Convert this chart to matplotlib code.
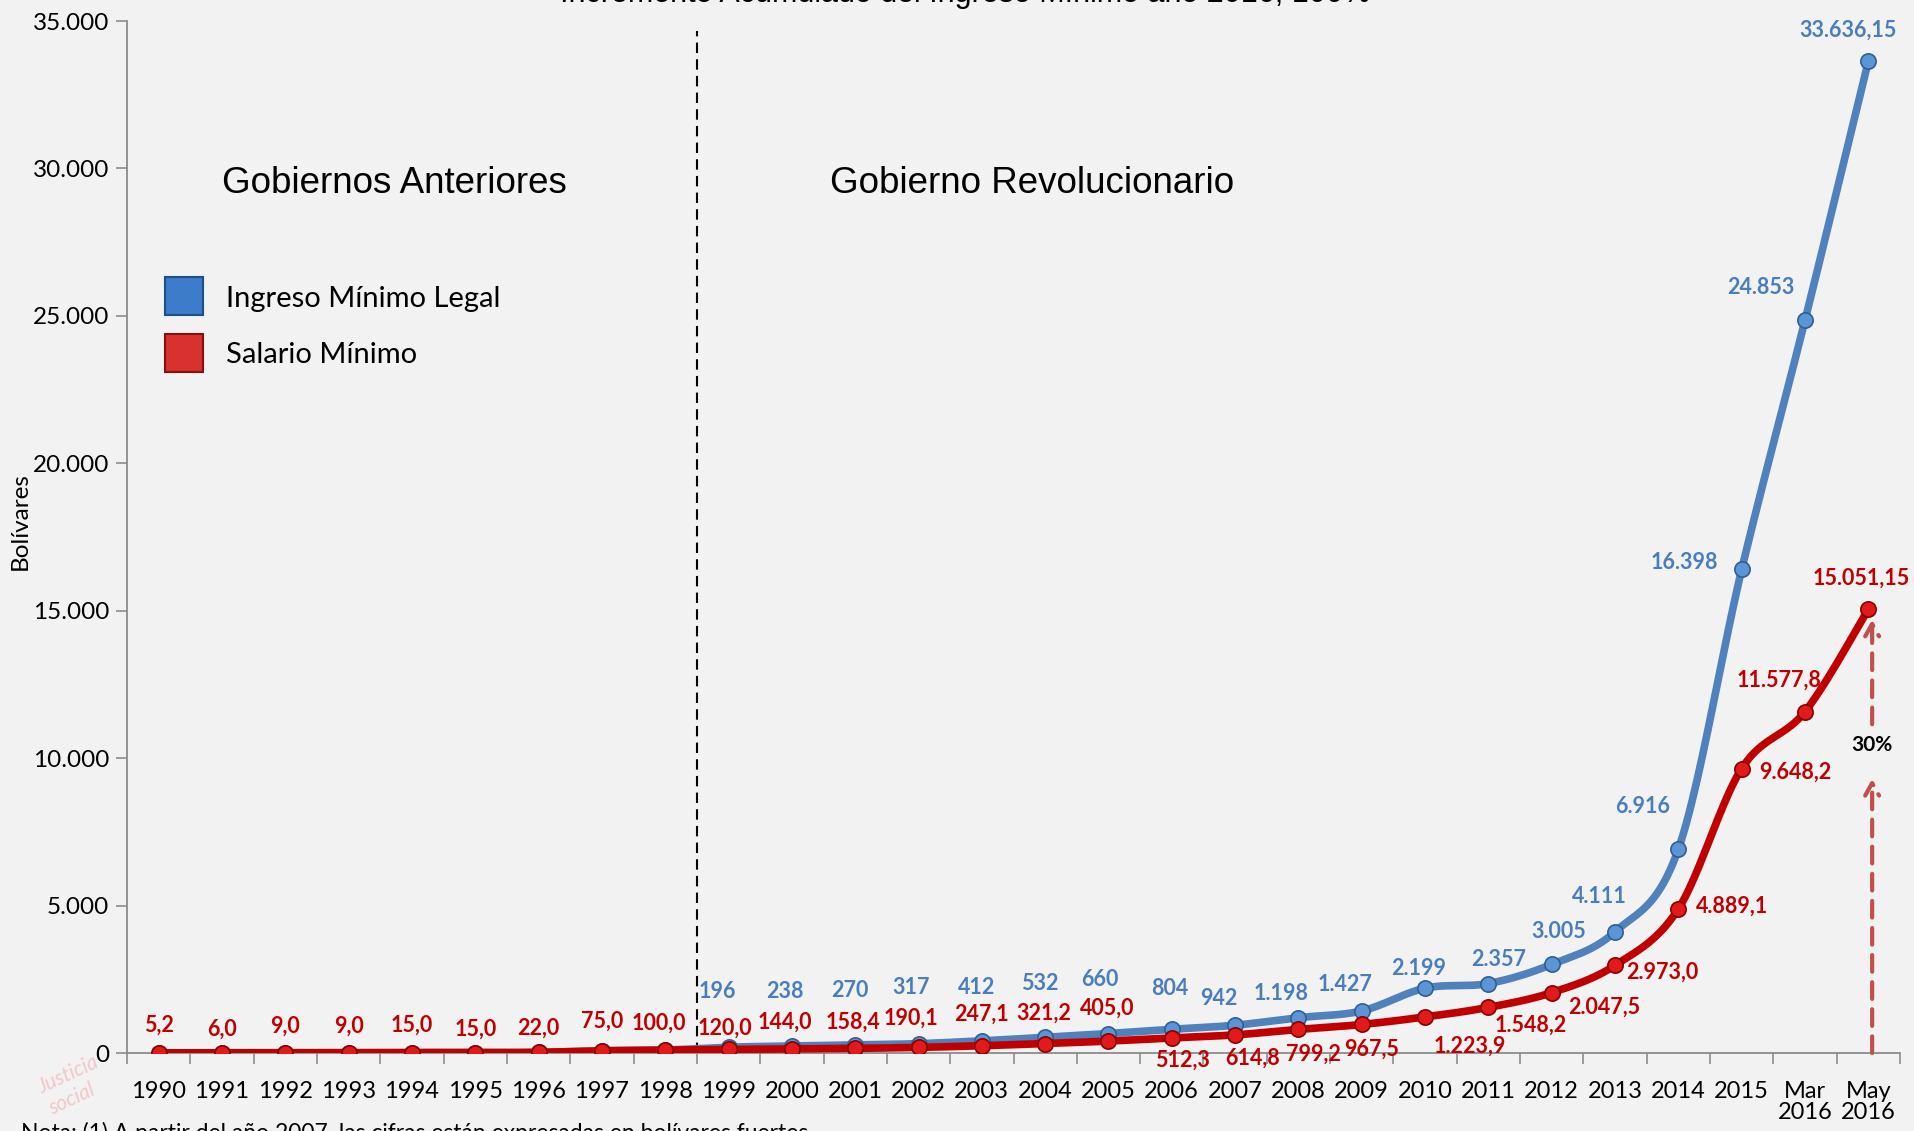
import numpy as np
import matplotlib
matplotlib.use("Agg")
import matplotlib.pyplot as plt
from matplotlib.lines import Line2D

# ---------------- data ----------------
categories = ["1990", "1991", "1992", "1993", "1994", "1995", "1996", "1997", "1998",
              "1999", "2000", "2001", "2002", "2003", "2004", "2005", "2006", "2007",
              "2008", "2009", "2010", "2011", "2012", "2013", "2014", "2015",
              "Mar\n2016", "May\n2016"]

salario_minimo = [5.2, 6.0, 9.0, 9.0, 15.0, 15.0, 22.0, 75.0, 100.0,
                  120.0, 144.0, 158.4, 190.1, 247.1, 321.2, 405.0, 512.3, 614.8,
                  799.2, 967.5, 1223.9, 1548.2, 2047.5, 2973.0, 4889.1, 9648.2,
                  11577.8, 15051.15]

ingreso_minimo = [5.2, 6.0, 9.0, 9.0, 15.0, 15.0, 22.0, 75.0, 100.0,
                  196, 238, 270, 317, 412, 532, 660, 804, 942,
                  1198, 1427, 2199, 2357, 3005, 4111, 6916, 16398,
                  24853, 33636.15]

salario_labels = ["5,2", "6,0", "9,0", "9,0", "15,0", "15,0", "22,0", "75,0", "100,0",
                  "120,0", "144,0", "158,4", "190,1", "247,1", "321,2", "405,0", "512,3",
                  "614,8", "799,2", "967,5", "1.223,9", "1.548,2", "2.047,5", "2.973,0",
                  "4.889,1", "9.648,2", "11.577,8", "15.051,15"]
ingreso_labels = [None] * 9 + ["196", "238", "270", "317", "412", "532", "660", "804", "942",
                               "1.198", "1.427", "2.199", "2.357", "3.005", "4.111", "6.916",
                               "16.398", "24.853", "33.636,15"]

y_ticks = [0, 5000, 10000, 15000, 20000, 25000, 30000, 35000]
y_tick_labels = ["0", "5.000", "10.000", "15.000", "20.000", "25.000", "30.000", "35.000"]

# label offsets in pixels (dx, dy) -- layout only
S = 1.2213
red_off = [(0, 23), (0, 19), (0, 22), (0, 22), (0, 22), (0, 19), (0, 20), (0, 24), (-5, 22),
           (-3, 17), (-6, 22), (-2, 21), (-6, 24), (0, 26), (-1, 25), (-1, 27), (9, -18),
           (14, -19), (12, -20), (8, -20), (37, -24), (35, -15), (43, -12), (39, -6),
           (44, 2), (44, -3), (-21, 26), (-6, 25)]
blue_off = [None] * 9 + [(-9, 46), (-6, 45), (-4, 45), (-6, 46), (-4, 44), (-4, 44), (-7, 44),
                         (-2, 33), (-13, 22), (-14, 20), (-14, 22), (-5, 16), (8, 20), (6, 27),
                         (-13, 29), (-29, 35), (-47, 6), (-36, 27), (-17, 25)]


def smooth(xs, ys, n=24):
    """Catmull-Rom curve through the points (Excel-like smoothed line)."""
    p = np.column_stack([xs, ys]).astype(float)
    p = np.vstack([p[0], p, p[-1]])
    out = []
    t = np.linspace(0, 1, n, endpoint=False)[:, None]
    for i in range(1, len(p) - 2):
        p0, p1, p2, p3 = p[i - 1], p[i], p[i + 1], p[i + 2]
        seg = 0.5 * ((2 * p1) + (-p0 + p2) * t + (2 * p0 - 5 * p1 + 4 * p2 - p3) * t ** 2
                     + (-p0 + 3 * p1 - 3 * p2 + p3) * t ** 3)
        out.append(seg)
    out.append(p[-2][None, :])
    out = np.vstack(out)
    return out[:, 0], out[:, 1]


plt.rcParams['font.family'] = ['Lato', 'DejaVu Sans']

W, H = 1915, 1131
fig = plt.figure(figsize=(W / 100, H / 100), dpi=100)
fig.patch.set_facecolor("#f2f2f2")

ax = fig.add_axes([127 / W, 1 - 1053 / H, (1900 - 127) / W, (1053 - 21) / H])
ax.set_facecolor("none")

x = np.arange(len(categories))

BLUE_LINE = "#4f81bd"
RED_LINE = "#c00000"

bx, by = smooth(x, ingreso_minimo)
rx, ry = smooth(x, salario_minimo)

ax.plot(bx, by, color=BLUE_LINE, lw=5.5, solid_capstyle="round", zorder=3)
ax.plot(x, ingreso_minimo, ls="none", marker="o", ms=11, mfc="#5b95d6", mec="#2f5f95",
        mew=1.2, zorder=4)
ax.plot(rx, ry, color=RED_LINE, lw=5.5, solid_capstyle="round", zorder=5)
ax.plot(x, salario_minimo, ls="none", marker="o", ms=11, mfc="#e31a1a", mec="#8a0000",
        mew=1.2, zorder=6)

# data labels
for i, (v, lab) in enumerate(zip(salario_minimo, salario_labels)):
    dx, dy = red_off[i]
    ax.annotate(lab, (x[i], v), xytext=(dx * S * 0.72, dy * S * 0.72), textcoords="offset points",
                ha="center", va="center", fontsize=15.5, fontweight="bold", color="#c00000",
                zorder=8)
for i, (v, lab) in enumerate(zip(ingreso_minimo, ingreso_labels)):
    if lab is None:
        continue
    dx, dy = blue_off[i]
    ax.annotate(lab, (x[i], v), xytext=(dx * S * 0.72, dy * S * 0.72), textcoords="offset points",
                ha="center", va="center", fontsize=15.5, fontweight="bold", color="#4a7ebb",
                zorder=8)

# axes styling
ax.set_xlim(-0.5, len(categories) - 0.5)
ax.set_ylim(0, 35000)
ax.set_yticks(y_ticks)
ax.set_yticklabels(y_tick_labels, fontsize=17.5)
ax.set_xticks(x)
ax.set_xticklabels(categories, fontsize=17, linespacing=1.0, va="top")
ax.set_xticks(np.arange(-0.5, len(categories), 1.0), minor=True)
ax.tick_params(axis="x", which="major", length=0, pad=20)
ax.tick_params(axis="x", which="minor", length=8, width=1.2, color="#8c8c8c", direction="out")
ax.tick_params(axis="y", length=8, width=1.2, color="#8c8c8c", pad=5)
for side in ["top", "right"]:
    ax.spines[side].set_visible(False)
for side in ["left", "bottom"]:
    ax.spines[side].set_color("#8c8c8c")
    ax.spines[side].set_linewidth(1.3)

ax.set_ylabel("Bolívares", fontsize=17.5, labelpad=4)
ax.yaxis.set_label_coords(-0.0545, 0.515)

# separator between periods
ax.axvline(8.5, ymin=0, ymax=0.99, color="black", ls=(0, (5, 3)), lw=1.5, zorder=2)

ax.text(0.0537, 0.843, "Gobiernos Anteriores", transform=ax.transAxes,
        fontsize=26.5, family="Liberation Sans", ha="left", va="center")
ax.text(0.3967, 0.843, "Gobierno Revolucionario", transform=ax.transAxes,
        fontsize=26.5, family="Liberation Sans", ha="left", va="center")

# 30% arrow annotation
arrow_kw = dict(arrowstyle="->,head_length=0.9,head_width=0.5", color="#c0504d", lw=3,
                ls=(0, (4, 2.5)), shrinkA=0, shrinkB=0)
xa = len(categories) - 1 + 0.06
ax.annotate("", xy=(xa, 9300), xytext=(xa, 0), arrowprops=arrow_kw, zorder=7)
ax.annotate("", xy=(xa, 14700), xytext=(xa, 11150), arrowprops=arrow_kw, zorder=7)
ax.text(xa, 10450, "30%", ha="center", va="center", fontsize=15, fontweight="bold",
        color="black", zorder=8)

# legend
handles = [Line2D([], [], ls="none", marker="s", ms=28, mfc="#3d7cc9", mec="#1f4f8a", mew=1.5),
           Line2D([], [], ls="none", marker="s", ms=28, mfc="#d93030", mec="#8a1010", mew=1.5)]
leg = ax.legend(handles, ["Ingreso Mínimo Legal", "Salario Mínimo"], loc="upper left",
                bbox_to_anchor=(0.009, 0.755), frameon=False, fontsize=21,
                handletextpad=0.45, labelspacing=1.05, borderaxespad=0)

# title (cut at top of figure as in the source)
fig.text(965 / W, 1 + 6 / H, "Incremento Acumulado del Ingreso Mínimo año 2016, 100%",
         ha="center", va="center", fontsize=22, family="Liberation Sans")

# footnote (cut at bottom)
fig.text(21 / W, 1 - 1122 / H, "Nota: (1) A partir del año 2007, las cifras están expresadas en bolívares fuertes",
         ha="left", va="top", fontsize=16.5)

# faint signature watermark
fig.text(35 / W, 1 - 1085 / H, "Justicia\nsocial", fontsize=15, color="#f0c8c8",
         rotation=25, ha="left", va="center", style="italic", zorder=0)

fig.savefig("out.png", dpi=100, facecolor=fig.get_facecolor())
